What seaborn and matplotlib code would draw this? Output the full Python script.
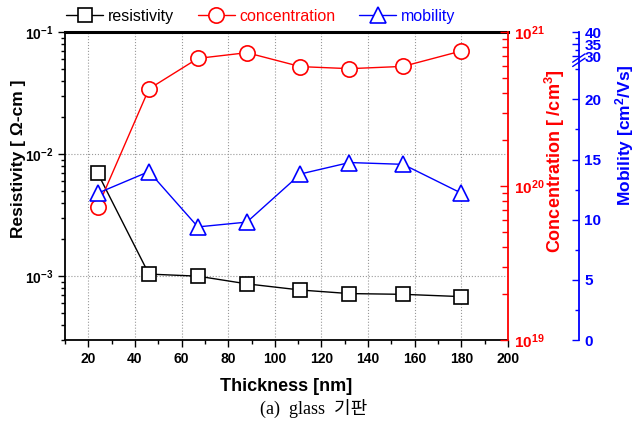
import numpy as np
import matplotlib
matplotlib.use("Agg")
import matplotlib.pyplot as plt
import matplotlib.ticker as mticker
import seaborn as sns

# data (glass substrate)
thickness = [24, 46, 67, 88, 111, 132, 155, 180]                      # nm
resistivity = [7.0e-3, 1.04e-3, 1.0e-3, 8.65e-4, 7.7e-4, 7.2e-4, 7.1e-4, 6.8e-4]  # ohm-cm
concentration = [7.3e19, 4.27e20, 6.74e20, 7.34e20, 5.96e20, 5.78e20, 5.98e20, 7.53e20]  # /cm3
mobility = [12.2, 14.0, 9.4, 9.8, 13.8, 14.75, 14.6, 12.2]            # cm2/Vs

x_major = [20, 40, 60, 80, 100, 120, 140, 160, 180, 200]
mob_major = [0, 5, 10, 15, 20, 30, 35, 40]
mob_minor = [2.5, 7.5, 12.5, 17.5, 22.5, 32.5, 37.5]

sns.set_style("ticks")
plt.rcParams['font.family'] = ['Liberation Sans', 'DejaVu Sans']
plt.rcParams['font.weight'] = 'bold'
plt.rcParams['mathtext.fontset'] = 'custom'
plt.rcParams['mathtext.bf'] = 'Liberation Sans:bold'
plt.rcParams['mathtext.rm'] = 'Liberation Sans:bold'
plt.rcParams['mathtext.it'] = 'Liberation Sans:italic'
for key in ['text.color', 'axes.labelcolor', 'xtick.color', 'ytick.color', 'axes.edgecolor']:
    plt.rcParams[key] = 'black'

fig = plt.figure(figsize=(6.36, 4.28), dpi=100)
ax = fig.add_axes([65 / 636, 88 / 428, 443 / 636, 308 / 428])
ax2 = ax.twinx()
ax3 = ax.twinx()

# 선 + 빈 마커
sns.lineplot(x=thickness, y=resistivity, ax=ax, color='black', lw=1,
             marker='s', markersize=9.5, markerfacecolor='white',
             markeredgecolor='black', markeredgewidth=1.2, label='resistivity', legend=False)
sns.lineplot(x=thickness, y=concentration, ax=ax2, color='red', lw=1,
             marker='o', markersize=11, markerfacecolor='white',
             markeredgecolor='red', markeredgewidth=1.2, label='concentration', legend=False)
sns.lineplot(x=thickness, y=mobility, ax=ax3, color='blue', lw=1,
             marker='^', markersize=12, markerfacecolor='white',
             markeredgecolor='blue', markeredgewidth=1.2, label='mobility', legend=False)

def dec_fmt(v, pos):
    return r'$\mathbf{10^{%d}}$' % int(round(np.log10(v)))

# left: resistivity (log)
ax.set_xlim(10, 200)
ax.set_yscale('log')
ax.set_ylim(3.0e-4, 1e-1)
ax.xaxis.set_major_locator(mticker.FixedLocator(x_major))
ax.xaxis.set_minor_locator(mticker.MultipleLocator(10))
ax.yaxis.set_major_locator(mticker.LogLocator(base=10))
ax.yaxis.set_minor_locator(mticker.LogLocator(base=10, subs=np.arange(2, 10)))
ax.yaxis.set_major_formatter(mticker.FuncFormatter(dec_fmt))
ax.yaxis.set_minor_formatter(mticker.NullFormatter())
ax.tick_params(axis='both', which='major', direction='out', length=5, width=1, labelsize=10)
ax.tick_params(axis='both', which='minor', direction='out', length=3, width=1)
ax.grid(True, which='major', ls=':', color='#999999', lw=0.8)
ax.spines['top'].set_linewidth(2.2)
ax.spines['left'].set_linewidth(1.3)
ax.spines['bottom'].set_linewidth(1.3)
ax.spines['right'].set_visible(False)
ax.set_xlabel('Thickness [nm]', fontsize=13, fontweight='bold', labelpad=9)
ax.set_ylabel('Resistivity [ Ω-cm ]', fontsize=12.5, fontweight='bold')
ax.yaxis.set_label_coords(-0.106, 0.588)
ax.yaxis.label.set(va='center', ha='center')

# right (red): concentration (log)
ax2.set_yscale('log')
ax2.set_ylim(1e19, 1e21)
ax2.yaxis.set_major_locator(mticker.LogLocator(base=10))
ax2.yaxis.set_minor_locator(mticker.LogLocator(base=10, subs=np.arange(2, 10)))
ax2.yaxis.set_major_formatter(mticker.FuncFormatter(dec_fmt))
ax2.yaxis.set_minor_formatter(mticker.NullFormatter())
ax2.tick_params(axis='y', which='major', direction='in', length=6, width=1,
                colors='red', labelsize=11, pad=4)
ax2.tick_params(axis='y', which='minor', direction='in', length=4, width=1, colors='red')
for s in ['top', 'bottom', 'left']:
    ax2.spines[s].set_visible(False)
ax2.spines['right'].set_color('red')
ax2.spines['right'].set_linewidth(1.3)
ax2.set_ylabel('Concentration [ /cm$^{\\mathbf{3}}$]', fontsize=13,
               fontweight='bold', color='red')
ax2.yaxis.set_label_coords(1.106, 0.581)
ax2.yaxis.label.set(va='center', ha='center')

# right (blue): mobility with axis break
def fwd(v):
    v = np.asarray(v, dtype=float)
    return np.where(v <= 23.2, v, np.where(v < 28, 23.2, 23.2 + (v - 28) * 0.2))

def inv(d):
    d = np.asarray(d, dtype=float)
    return np.where(d <= 23.2, d, 28 + (d - 23.2) / 0.2)

ax3.set_yscale('function', functions=(fwd, inv))
ax3.set_ylim(0, 40)
ax3.yaxis.set_major_locator(mticker.FixedLocator(mob_major))
ax3.yaxis.set_minor_locator(mticker.FixedLocator(mob_minor))
ax3.yaxis.set_major_formatter(mticker.FormatStrFormatter('%d'))
ax3.yaxis.set_minor_formatter(mticker.NullFormatter())
ax3.tick_params(axis='y', which='major', direction='in', length=5, width=1,
                colors='blue', labelsize=11, pad=4)
ax3.tick_params(axis='y', which='minor', direction='in', length=3, width=1, colors='blue')
for s in ['top', 'bottom', 'left']:
    ax3.spines[s].set_visible(False)
ax3.spines['right'].set_position(('axes', 1.16))
ax3.spines['right'].set_color('blue')
ax3.spines['right'].set_linewidth(1.3)
ax3.set_ylabel('Mobility [cm$^{\\mathbf{2}}$/Vs]', fontsize=12.5,
               fontweight='bold', color='blue')
ax3.yaxis.set_label_coords(1.264, 0.666)
ax3.yaxis.label.set(va='center', ha='center')
# break marks
for dy in (0.0, 0.014):
    ax3.plot([1.146, 1.174], [0.888 + dy, 0.915 + dy], transform=ax3.transAxes,
             color='blue', lw=1, clip_on=False)

# legend on top
handles = ax.get_lines()[:1] + ax2.get_lines()[:1] + ax3.get_lines()[:1]
fig.legend(handles, ['resistivity', 'concentration', 'mobility'], ncol=3,
           loc='center', bbox_to_anchor=(0.41, 0.962), frameon=False,
           prop={'size': 11.5, 'weight': 'normal'}, handlelength=2.3,
           handletextpad=0.3, columnspacing=1.5, labelcolor='linecolor')

fig.text(314 / 636, 1 - 408 / 428, '(a)  glass  기판', ha='center', va='center',
         fontsize=13, fontweight='normal',
         family=['Liberation Serif', 'Noto Sans CJK KR'])

fig.savefig('out.png', dpi=100)
